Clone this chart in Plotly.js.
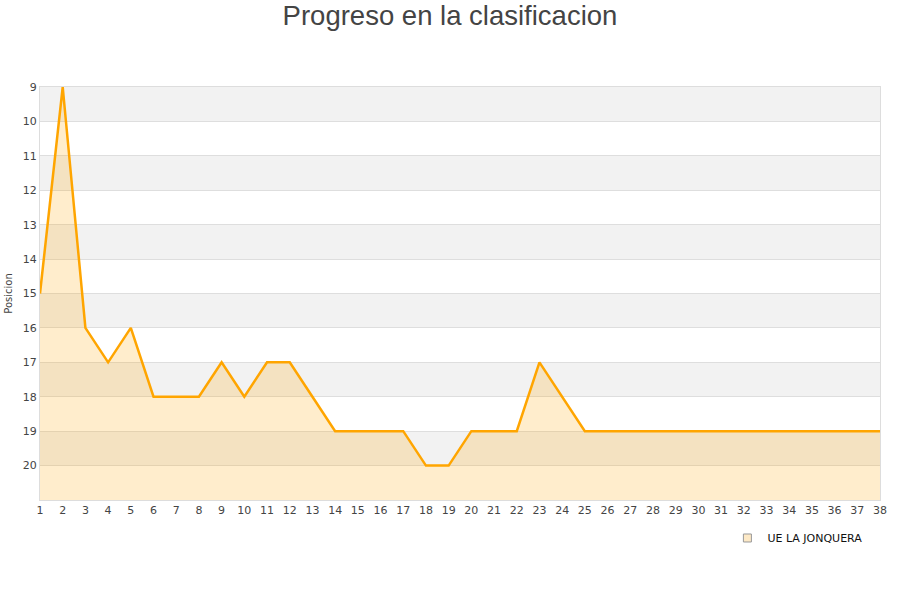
<!DOCTYPE html>
<html>
<head>
<meta charset="utf-8">
<script src="https://cdn.plot.ly/plotly-3.0.1.min.js"></script>
<style>
  html, body { margin: 0; padding: 0; background: #fff; }
  #chart { width: 900px; height: 600px; }
</style>
</head>
<body>
<div id="chart"></div>
<script>
// Matchdays and league position of the team after each one
const jornadas = [1,2,3,4,5,6,7,8,9,10,11,12,13,14,15,16,17,18,19,20,21,22,23,24,25,26,27,28,29,30,31,32,33,34,35,36,37,38];
const posicion = [15,9,16,17,16,18,18,18,17,18,17,17,18,19,19,19,19,20,20,19,19,19,17,18,19,19,19,19,19,19,19,19,19,19,19,19,19,19];
const equipo = 'UE LA JONQUERA';
const yTicks = [9,10,11,12,13,14,15,16,17,18,19,20];
const yMin = 9, yMax = 21;

// Bottom edge of the plot, used as the fill baseline
const base = jornadas.map(() => yMax);

// Alternating horizontal bands behind the data
const shapes = [];
for (let v = yMin; v < yMax; v += 2) {
  shapes.push({
    type: 'rect', xref: 'paper', yref: 'y', layer: 'below',
    x0: 0, x1: 1, y0: v, y1: v + 1,
    fillcolor: '#f2f2f2', line: { width: 0 }
  });
}

const traces = [
  {
    x: jornadas, y: base, mode: 'lines', line: { width: 0 },
    hoverinfo: 'skip', showlegend: false
  },
  {
    x: jornadas, y: posicion, mode: 'lines', name: equipo,
    line: { color: '#FFA500', width: 2.5 },
    fill: 'tonexty', fillcolor: 'rgba(255,165,0,0.2)',
    showlegend: false
  },
  {
    x: [null], y: [null], mode: 'markers', name: equipo,
    marker: { symbol: 'square', size: 8, color: '#fde9c6', line: { color: '#999', width: 1 } }
  }
];

const layout = {
  width: 900, height: 600,
  margin: { l: 40, r: 20, t: 87, b: 100 },
  paper_bgcolor: '#fff', plot_bgcolor: '#fff',
  title: {
    text: 'Progreso en la clasificacion',
    font: { family: 'Liberation Sans, Arial, sans-serif', size: 27.5, color: '#444' },
    x: 0.5, xanchor: 'center', y: 0.975, yanchor: 'middle'
  },
  font: { family: 'DejaVu Sans, sans-serif', size: 11, color: '#444' },
  xaxis: {
    range: [1, 38], tickvals: jornadas, ticktext: jornadas.map(String),
    showgrid: false, zeroline: false,
    showline: true, linecolor: '#dddddd', mirror: true,
    ticks: '', tickfont: { size: 11, color: '#444' }
  },
  yaxis: {
    range: [yMax, yMin], tickvals: yTicks, ticktext: yTicks.map(String),
    showgrid: true, gridcolor: '#dedede', zeroline: false,
    showline: true, linecolor: '#dddddd', mirror: true,
    ticks: '', tickfont: { size: 11, color: '#444' },
    title: { text: 'Posicion', font: { size: 10, color: '#444' }, standoff: 8 }
  },
  shapes: shapes,
  showlegend: true,
  legend: {
    x: 0.985, xanchor: 'right', y: -0.092, yanchor: 'middle',
    font: { size: 11, color: '#111' }, bgcolor: 'rgba(0,0,0,0)'
  }
};

Plotly.newPlot('chart', traces, layout, { displayModeBar: false, staticPlot: true });
</script>
</body>
</html>
